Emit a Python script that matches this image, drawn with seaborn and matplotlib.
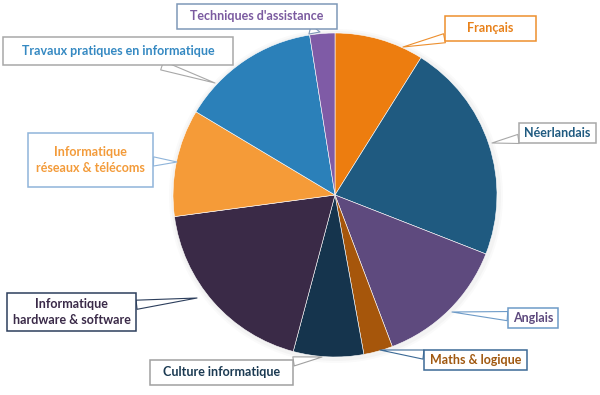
import matplotlib
matplotlib.use("Agg")
import matplotlib.pyplot as plt
import seaborn as sns

# Data (share of hours)
subjects = ["Français", "Néerlandais", "Anglais", "Maths & logique",
            "Culture informatique", "Informatique\nhardware & software",
            "Informatique\nréseaux & télécoms",
            "Travaux pratiques en informatique", "Techniques d'assistance"]
shares = [8.9, 22.0, 13.3, 2.9, 7.0, 18.7, 10.7, 13.9, 2.5]

colors = ["#ED7D0F", "#1F5A80", "#5E4A7E", "#A6560B", "#15344D",
          "#3A2A47", "#F59B38", "#2B80B9", "#7F5BA6"]
text_colors = ["#E8811A", "#1F5A80", "#5E4A7E", "#A0580F", "#1B3A52",
               "#3A2A48", "#F39B3A", "#3589C2", "#7B5BA0"]
border_colors = ["#ED8F2E", "#A8A8A8", "#6E9BC8", "#3C6A96", "#A0A0A0",
                 "#2C3E5C", "#8FB4DA", "#A8A8A8", "#7F98B8"]

# label boxes (x0, y0, x1, y1) and leader tips, pixels from top-left
boxes = [(445, 16, 536, 41), (519, 123, 596, 143), (508, 308, 558, 328),
         (424, 350, 527, 370), (150, 360, 293, 385), (7, 293, 136, 331),
         (28, 133, 153, 187), (3, 37, 233, 65), (177, 4, 337, 29)]
tips = [(403, 47), (492, 143), (452, 312), (380, 350), (322, 357),
        (197, 298), (177, 162), (215, 83), (320, 32)]

sns.set_theme(style="white")
plt.rcParams["font.family"] = ["Lato", "DejaVu Sans"]

W, H = 600, 395
fig = plt.figure(figsize=(6, 3.95), dpi=100)
ax = fig.add_axes([0, 0, 1, 1])

# soft shadow under the pie
for r, a in [(167, 0.04), (165, 0.05)]:
    ax.add_patch(plt.Circle((336, H - 196), r, color="#808080", alpha=a, lw=0))

ax.pie(shares, colors=colors, startangle=90, counterclock=False,
       center=(335, H - 195), radius=162,
       wedgeprops=dict(edgecolor="white", linewidth=0.4))
ax.set_xlim(0, W)
ax.set_ylim(0, H)
ax.set_aspect("equal")
ax.axis("off")

for lab, tc, bc, (x0, y0, x1, y1), (tx, ty) in zip(subjects, text_colors,
                                                    border_colors, boxes, tips):
    rect = plt.Rectangle((x0, H - y1), x1 - x0, y1 - y0, fc="white", ec=bc,
                         lw=1.1, zorder=5)
    ax.add_patch(rect)
    ax.annotate("", xy=(tx, H - ty), xytext=((x0 + x1) / 2, H - (y0 + y1) / 2),
                arrowprops=dict(arrowstyle="wedge,tail_width=0.55,shrink_factor=0.5",
                                fc="white", ec=bc, lw=0.8, patchA=rect,
                                shrinkA=0, shrinkB=0), zorder=4)
    ax.text((x0 + x1) / 2, H - (y0 + y1) / 2, lab, ha="center", va="center",
            fontsize=9, fontweight="bold", color=tc, linespacing=1.3, zorder=6)

fig.savefig("out.png", dpi=100)
